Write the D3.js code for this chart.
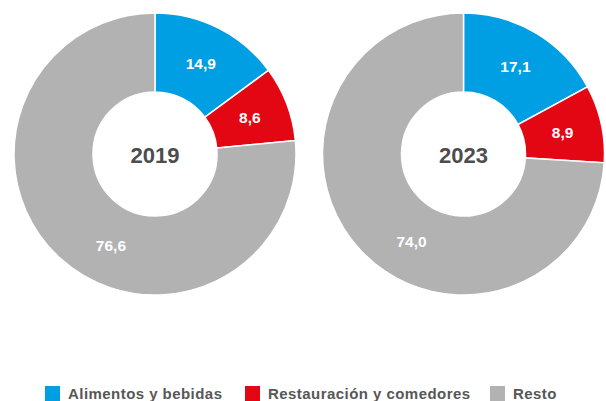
<!DOCTYPE html>
<html>
<head>
<meta charset="utf-8">
<script src="https://cdn.jsdelivr.net/npm/d3@7"></script>
<style>
  html, body { margin: 0; padding: 0; background: #fff; }
  svg { display: block; }
  text { font-family: "Liberation Sans", Arial, sans-serif; font-weight: bold; }
</style>
</head>
<body>
<svg id="chart" width="606" height="401"></svg>
<script>
// Shares of spending by category (%), per year
const years = ["2019", "2023"];
const categories = ["Alimentos y bebidas", "Restauración y comedores", "Resto"];
const values2019 = [14.9, 8.6, 76.6];
const values2023 = [17.1, 8.9, 74.0];
const seriesValues = [values2019, values2023];
const colors = ["#009fe3", "#e30613", "#b2b2b2"];

const svg = d3.select("#chart");

const outerR = 141, innerR = 62;
const centers = d3.scalePoint().domain(years).range([155, 463.5]);
const cy = 154;

const color = d3.scaleOrdinal().domain(categories).range(colors);
const fmt = v => d3.format(".1f")(v).replace(".", ",");

const pie = d3.pie().sort(null).value(d => d.value);
const arc = d3.arc().innerRadius(innerR).outerRadius(outerR);
const labelR = (innerR + outerR) / 2;

years.forEach((yr, yi) => {
  const data = categories.map((c, i) => ({ category: c, value: seriesValues[yi][i] }));
  const g = svg.append("g").attr("transform", `translate(${centers(yr)},${cy})`);
  const arcs = pie(data);

  g.selectAll("path").data(arcs).join("path")
    .attr("d", arc)
    .attr("fill", d => color(d.data.category))
    .attr("stroke", "#fff")
    .attr("stroke-width", 1.5);

  // value labels: centroid for small slices, nearer the start for the large one
  g.selectAll("text.val").data(arcs).join("text")
    .attr("class", "val")
    .attr("transform", d => {
      const span = d.endAngle - d.startAngle;
      const a = span > Math.PI ? d.startAngle + span * 0.44 : (d.startAngle + d.endAngle) / 2;
      return `translate(${labelR * Math.sin(a)},${-labelR * Math.cos(a)})`;
    })
    .attr("text-anchor", "middle")
    .attr("dy", "0.36em")
    .attr("fill", "#fff")
    .attr("font-size", 15.5)
    .text(d => fmt(d.data.value));

  g.append("text")
    .attr("text-anchor", "middle")
    .attr("dy", "0.36em")
    .attr("y", 1)
    .attr("fill", "#4d4d4d")
    .attr("font-size", 22)
    .text(yr);
});

// legend
const legendX = [45, 245, 490];
const legend = svg.append("g");
categories.forEach((c, i) => {
  legend.append("rect")
    .attr("x", legendX[i]).attr("y", 386)
    .attr("width", 15).attr("height", 15)
    .attr("fill", color(c));
  legend.append("text")
    .attr("x", legendX[i] + 23).attr("y", 398.5)
    .attr("fill", "#575757")
    .attr("font-size", 15)
    .attr("letter-spacing", 0.45)
    .text(c);
});
</script>
</body>
</html>
